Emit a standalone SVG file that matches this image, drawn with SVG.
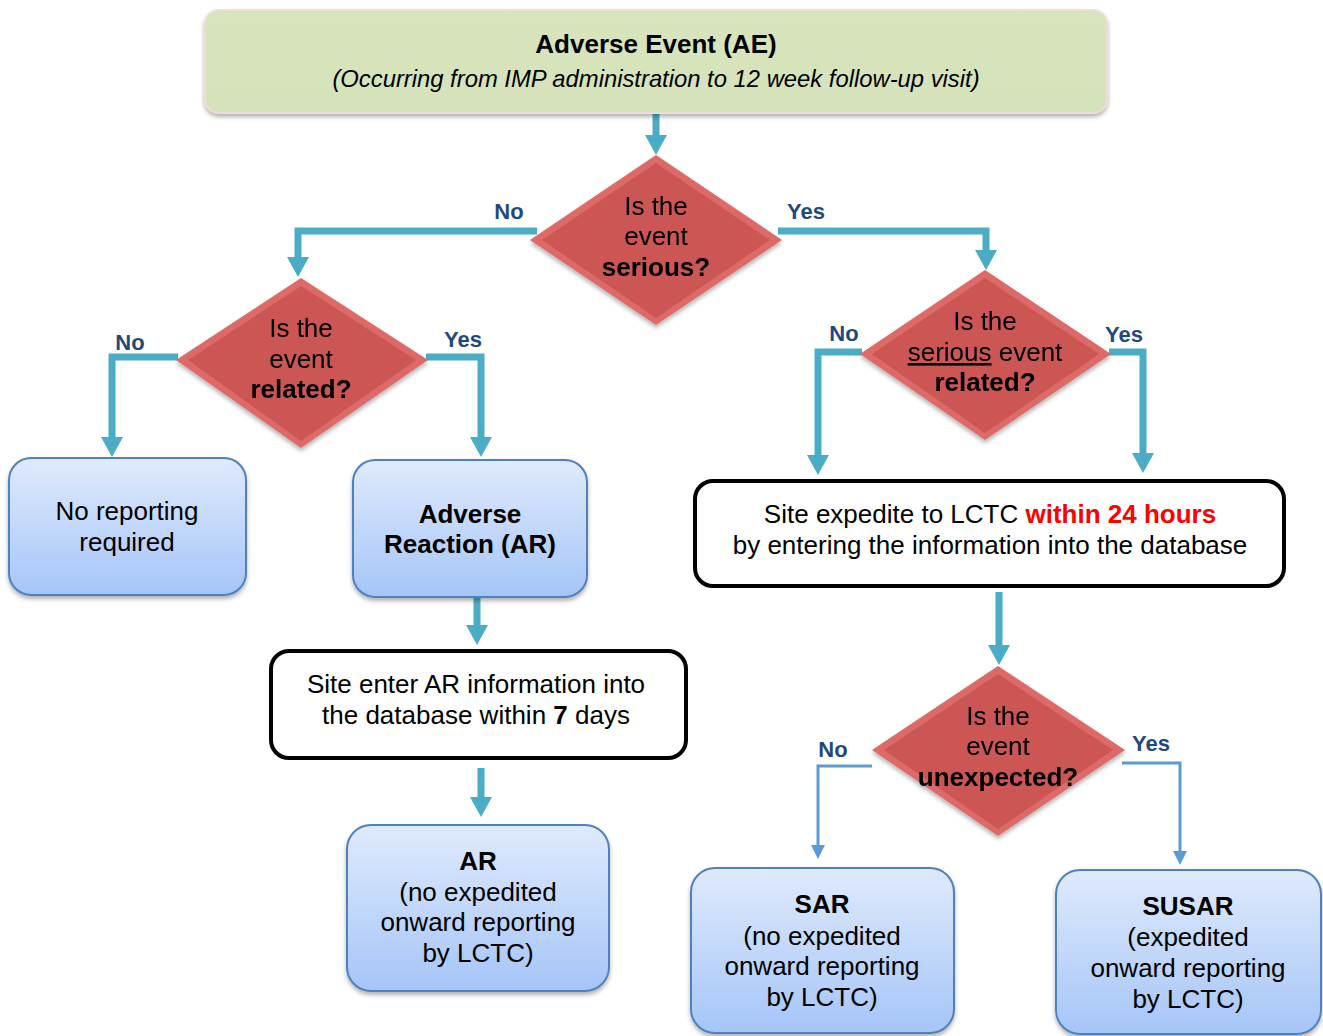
<svg xmlns="http://www.w3.org/2000/svg" width="1323" height="1036" viewBox="0 0 1323 1036">
<style>
text{font-family:"Liberation Sans",Arial,sans-serif;font-size:26px;fill:#000;text-anchor:middle}
.b{font-weight:bold}
.lbl{font-size:22px;font-weight:bold;fill:#1f497d;text-anchor:middle}
.blue{fill:url(#gb);stroke:#4f81bd;stroke-width:2}
.proc{fill:#fff;stroke:#000;stroke-width:4}
.dOut{fill:#dd6b67}
.dIn{fill:#cb5652}
.thick{fill:none;stroke:#4bacc6;stroke-width:7;marker-end:url(#ah)}
.thin{fill:none;stroke:#5b9bd5;stroke-width:3;marker-end:url(#ahs)}
</style>
<defs>
<linearGradient id="gb" x1="0" y1="0" x2="0" y2="1">
<stop offset="0" stop-color="#dfeafc"/>
<stop offset="1" stop-color="#a5c5f8"/>
</linearGradient>
<linearGradient id="gg" x1="0" y1="0" x2="0" y2="1">
<stop offset="0" stop-color="#d8e4bc"/>
<stop offset="1" stop-color="#d6e3ba"/>
</linearGradient>
<filter id="sh" x="-10%" y="-10%" width="120%" height="130%">
<feDropShadow dx="0" dy="3" stdDeviation="2" flood-color="#000" flood-opacity="0.3"/>
</filter>
<marker id="ah" markerUnits="userSpaceOnUse" markerWidth="24" markerHeight="24" refX="2" refY="12" orient="auto">
<path d="M0,1 L20,12 L0,23 z" fill="#4bacc6"/>
</marker>
<marker id="ahs" markerUnits="userSpaceOnUse" markerWidth="16" markerHeight="16" refX="1" refY="8" orient="auto">
<path d="M0,1 L14,8 L0,15 z" fill="#5b9bd5"/>
</marker>
</defs>

<g id="connectors">
<path class="thick" d="M656,113 V137"/>
<path class="thick" d="M537,231 H298 V259"/>
<path class="thick" d="M778,231 H986 V252"/>
<path class="thick" d="M178,357 H112 V439"/>
<path class="thick" d="M426,357 H481 V439"/>
<path class="thick" d="M862,352 H818 V457"/>
<path class="thick" d="M1109,352 H1143 V455"/>
<path class="thick" d="M477,597 V627"/>
<path class="thick" d="M999,592 V647"/>
<path class="thick" d="M481,768 V799"/>
<path class="thin" d="M872,766 H818 V846"/>
<path class="thin" d="M1122,763 H1180 V852"/>
<text class="lbl" x="509" y="219">No</text>
<text class="lbl" x="806" y="219">Yes</text>
<text class="lbl" x="130" y="350">No</text>
<text class="lbl" x="463" y="347">Yes</text>
<text class="lbl" x="844" y="341">No</text>
<text class="lbl" x="1124" y="342">Yes</text>
<text class="lbl" x="833" y="757">No</text>
<text class="lbl" x="1151" y="751">Yes</text>
</g>

<g id="ae">
<rect x="205" y="10" width="902" height="103" rx="14" fill="url(#gg)" stroke="#efdcd2" stroke-width="2" filter="url(#sh)"/>
<text class="b" x="656" y="53">Adverse Event (AE)</text>
<text x="656" y="87" style="font-style:italic;font-size:23.8px">(Occurring from IMP administration to 12 week follow-up visit)</text>
</g>

<g id="d-serious" filter="url(#sh)">
<polygon class="dOut" points="656,155 782,240 656,325 530,240"/>
<polygon class="dIn" points="656,163 770,240 656,318 542,240"/>
<text x="656" y="215">Is the</text>
<text x="656" y="245">event</text>
<text class="b" x="656" y="276">serious?</text>
</g>

<g id="d-related" filter="url(#sh)">
<polygon class="dOut" points="301,278 428,360 301,448 176,360"/>
<polygon class="dIn" points="301,286 416,360 301,441 188,360"/>
<text x="301" y="337">Is the</text>
<text x="301" y="368">event</text>
<text class="b" x="301" y="398">related?</text>
</g>

<g id="d-srelated" filter="url(#sh)">
<polygon class="dOut" points="985,270 1111,354 985,440 860,354"/>
<polygon class="dIn" points="985,278 1099,354 985,433 872,354"/>
<text x="985" y="330">Is the</text>
<text x="985" y="361"><tspan text-decoration="underline">serious</tspan> event</text>
<text class="b" x="985" y="391">related?</text>
</g>

<g id="d-unexpected" filter="url(#sh)">
<polygon class="dOut" points="998,666 1125,750 998,836 872,750"/>
<polygon class="dIn" points="998,674 1113,750 998,829 884,750"/>
<text x="998" y="725">Is the</text>
<text x="998" y="755">event</text>
<text class="b" x="998" y="786">unexpected?</text>
</g>

<g id="no-report">
<rect class="blue" x="9" y="458" width="237" height="137" rx="22" filter="url(#sh)"/>
<text x="127" y="520">No reporting</text>
<text x="127" y="551">required</text>
</g>

<g id="ar-node">
<rect class="blue" x="353" y="460" width="234" height="137" rx="22" filter="url(#sh)"/>
<text class="b" x="470" y="523">Adverse</text>
<text class="b" x="470" y="553">Reaction (AR)</text>
</g>

<g id="site-ar">
<rect class="proc" x="271" y="651" width="415" height="107" rx="18"/>
<text x="476" y="693">Site enter AR information into</text>
<text x="476" y="724">the database within <tspan class="b">7</tspan> days</text>
</g>

<g id="ar-final">
<rect class="blue" x="347" y="825" width="262" height="166" rx="24" filter="url(#sh)"/>
<text class="b" x="478" y="870">AR</text>
<text x="478" y="901">(no expedited</text>
<text x="478" y="931">onward reporting</text>
<text x="478" y="962">by LCTC)</text>
</g>

<g id="site-expedite">
<rect class="proc" x="695" y="481" width="589" height="105" rx="18"/>
<text x="990" y="523">Site expedite to LCTC <tspan class="b" fill="#ff0000">within 24 hours</tspan></text>
<text x="990" y="554">by entering the information into the database</text>
</g>

<g id="sar">
<rect class="blue" x="691" y="868" width="263" height="165" rx="24" filter="url(#sh)"/>
<text class="b" x="822" y="913">SAR</text>
<text x="822" y="945">(no expedited</text>
<text x="822" y="975">onward reporting</text>
<text x="822" y="1006">by LCTC)</text>
</g>

<g id="susar">
<rect class="blue" x="1056" y="870" width="265" height="164" rx="24" filter="url(#sh)"/>
<text class="b" x="1188" y="915">SUSAR</text>
<text x="1188" y="946">(expedited</text>
<text x="1188" y="977">onward reporting</text>
<text x="1188" y="1008">by LCTC)</text>
</g>
</svg>
